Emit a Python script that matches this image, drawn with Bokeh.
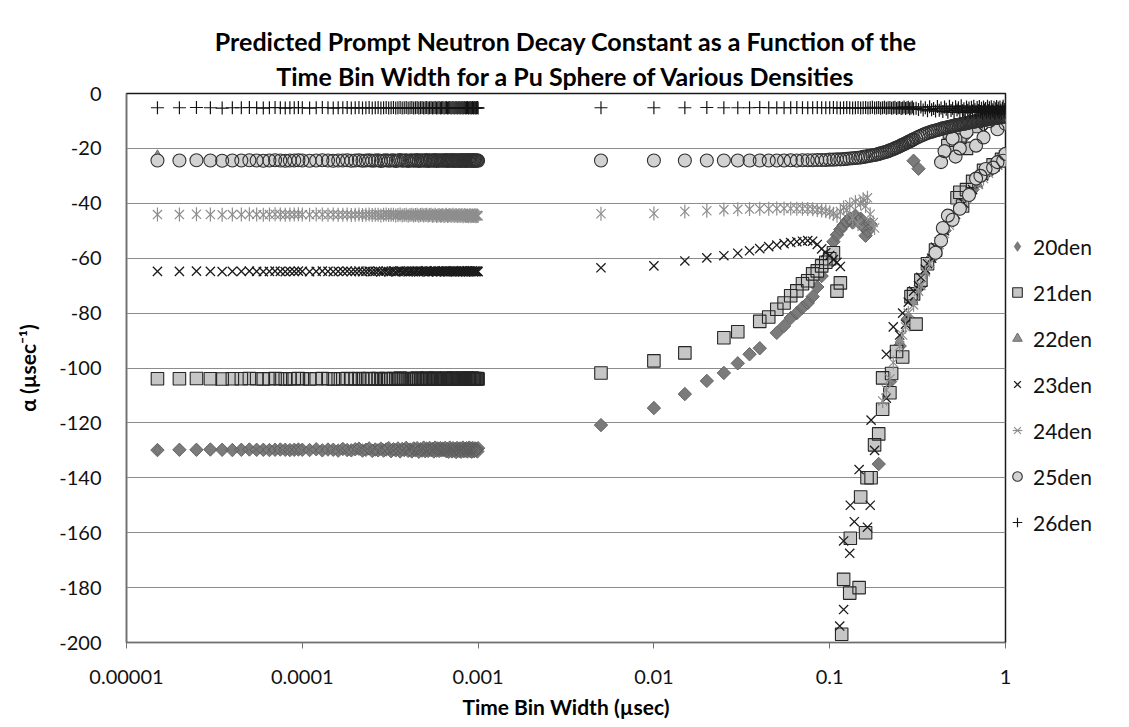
import math
from bokeh.plotting import figure
from bokeh.models import Range1d, FixedTicker, CustomJSTickFormatter, Title, Legend, LegendItem
from bokeh.embed import file_html
from bokeh.resources import INLINE

TITLE_1 = "Predicted Prompt Neutron Decay Constant as a Function of the"
TITLE_2 = "Time Bin Width for a Pu Sphere of Various Densities"
X_LABEL = "Time Bin Width (µsec)"
Y_LABEL = "α (µsec⁻¹)"
SERIES = ["20den", "21den", "22den", "23den", "24den", "25den", "26den"]
X_TICKS = [1e-5, 1e-4, 1e-3, 1e-2, 1e-1, 1.0]
X_TICK_LABELS = ["0.00001", "0.0001", "0.001", "0.01", "0.1", "1"]
Y_TICKS = [-200, -180, -160, -140, -120, -100, -80, -60, -40, -20, 0]

# ---- short time-bin widths (usec), shared by all series ----
LEFT_X = [
    1.5e-5, 2.0e-5, 2.5e-5, 3.0e-5, 3.5e-5, 4.0e-5, 4.5e-5, 5.0e-5, 5.5e-5, 6.0e-5, 6.5e-5, 7.0e-5,
    7.5e-5, 8.0e-5, 8.5e-5, 9.0e-5, 9.5e-5, 1.0e-4, 1.1e-4, 1.2e-4, 1.3e-4, 1.4e-4, 1.5e-4, 1.6e-4,
    1.7e-4, 1.8e-4, 1.9e-4, 2.0e-4, 2.1e-4, 2.2e-4, 2.3e-4, 2.4e-4, 2.5e-4, 2.6e-4, 2.7e-4, 2.8e-4,
    2.9e-4, 3.0e-4, 3.1e-4, 3.2e-4, 3.3e-4, 3.4e-4, 3.5e-4, 3.6e-4, 3.7e-4, 3.8e-4, 3.9e-4, 4.0e-4,
    4.1e-4, 4.2e-4, 4.3e-4, 4.4e-4, 4.5e-4, 4.6e-4, 4.7e-4, 4.8e-4, 4.9e-4, 5.0e-4, 5.1e-4, 5.2e-4,
    5.3e-4, 5.4e-4, 5.5e-4, 5.6e-4, 5.7e-4, 5.8e-4, 5.9e-4, 6.0e-4, 6.1e-4, 6.2e-4, 6.3e-4, 6.4e-4,
    6.5e-4, 6.6e-4, 6.7e-4, 6.8e-4, 6.9e-4, 7.0e-4, 7.1e-4, 7.2e-4, 7.3e-4, 7.4e-4, 7.5e-4, 7.6e-4,
    7.7e-4, 7.8e-4, 7.9e-4, 8.0e-4, 8.1e-4, 8.2e-4, 8.3e-4, 8.4e-4, 8.5e-4, 8.6e-4, 8.7e-4, 8.8e-4,
    8.9e-4, 9.0e-4, 9.1e-4, 9.2e-4, 9.3e-4, 9.4e-4, 9.5e-4, 9.6e-4, 9.7e-4, 9.8e-4, 9.9e-4, 1.0e-3]

D20_LY = [
    -129.9, -129.8, -129.8, -129.7, -129.8, -129.9, -129.8, -129.7, -129.8, -129.8, -129.9, -129.8,
    -129.7, -129.8, -129.9, -129.8, -129.7, -129.8, -129.9, -129.6, -130.0, -129.7, -129.8, -130.1,
    -129.5, -129.9, -130.0, -129.6, -129.4, -130.1, -129.8, -129.3, -130.2, -129.7, -130.0, -129.4,
    -130.1, -129.7, -129.2, -130.3, -129.6, -130.0, -129.3, -130.4, -129.5, -129.9, -129.1, -130.2,
    -129.7, -130.4, -129.3, -130.0, -129.2, -130.5, -129.6, -130.1, -129.0, -130.3, -129.4, -130.2,
    -129.1, -129.9, -129.5, -130.4, -129.0, -130.1, -129.3, -130.2, -129.2, -130.0, -129.4, -129.9,
    -129.1, -130.3, -129.6, -130.5, -129.0, -129.8, -130.4, -129.2, -130.1, -129.5, -130.6, -129.1,
    -129.9, -130.2, -129.3, -130.5, -129.7, -129.0, -130.3, -129.5, -130.1, -129.2, -130.4, -129.6,
    -129.0, -130.2, -129.4, -130.5, -129.1, -129.8, -130.3, -129.3, -130.0, -129.5, -130.4, -129.2]
S21_LY = [
    -103.9, -103.9, -103.8, -103.9, -104.0, -103.9, -103.9, -103.8, -103.9, -104.0, -103.9, -103.8,
    -103.9, -104.0, -103.9, -103.9, -103.8, -103.9, -104.0, -103.9, -103.8, -103.9, -104.0, -103.9,
    -103.9, -103.8, -104.0, -103.9, -103.8, -104.0, -103.9, -103.8, -104.0, -103.9, -103.8, -104.1,
    -103.9, -103.8, -104.0, -103.9, -103.8, -104.1, -103.9, -103.7, -104.0, -103.9, -103.8, -104.1,
    -103.9, -103.8, -104.0, -103.9, -103.7, -104.1, -103.9, -103.8, -104.0, -103.9, -103.7, -104.1,
    -103.9, -103.8, -104.0, -103.9, -103.7, -104.1, -103.9, -103.8, -104.0, -103.9, -103.8, -104.0,
    -103.9, -103.7, -104.1, -103.9, -103.8, -104.0, -103.9, -103.7, -104.1, -103.9, -103.8, -104.0,
    -103.9, -103.8, -104.1, -103.9, -103.7, -104.0, -103.9, -103.8, -104.1, -103.9, -103.7, -104.0,
    -103.9, -103.8, -104.0, -103.9, -103.7, -104.1, -103.9, -103.8, -104.0, -103.9, -103.8, -104.0]
T22_LY = [
    -22.4, -24.1, -24.1, -24.2, -24.1, -24.1, -24.2, -24.1, -24.1, -24.2, -24.1, -24.1,
    -24.2, -24.1, -24.1, -24.2, -24.1, -24.1, -24.2, -24.1, -24.1, -24.2, -24.1, -24.1,
    -24.2, -24.1, -24.1, -24.2, -24.1, -24.1, -24.2, -24.1, -24.1, -24.2, -24.1, -24.1,
    -24.2, -24.1, -24.1, -24.2, -24.1, -24.1, -24.2, -24.1, -24.1, -24.2, -24.1, -24.1,
    -24.2, -24.1, -24.1, -24.2, -24.1, -24.1, -24.2, -24.1, -24.1, -24.2, -24.1, -24.1,
    -24.2, -24.1, -24.1, -24.2, -24.1, -24.1, -24.2, -24.1, -24.1, -24.2, -24.1, -24.1,
    -24.2, -24.1, -24.1, -24.2, -24.1, -24.1, -24.2, -24.1, -24.1, -24.2, -24.1, -24.1,
    -24.2, -24.1, -24.1, -24.2, -24.1, -24.1, -24.2, -24.1, -24.1, -24.2, -24.1, -24.1,
    -24.2, -24.1, -24.1, -24.2, -24.1, -24.1, -24.2, -24.1, -24.1, -24.2, -24.1, -24.1]
X23_LY = [
    -64.8, -64.8, -64.7, -64.8, -64.9, -64.8, -64.8, -64.7, -64.8, -64.9, -64.8, -64.7,
    -64.8, -64.9, -64.8, -64.8, -64.7, -64.8, -64.9, -64.8, -64.7, -64.8, -64.9, -64.8,
    -64.8, -64.7, -64.9, -64.8, -64.7, -64.9, -64.8, -64.7, -64.9, -64.8, -64.7, -65.0,
    -64.8, -64.7, -64.9, -64.8, -64.7, -65.0, -64.8, -64.6, -64.9, -64.8, -64.7, -65.0,
    -64.8, -64.7, -64.9, -64.8, -64.6, -65.0, -64.8, -64.7, -64.9, -64.8, -64.6, -65.0,
    -64.8, -64.7, -64.9, -64.8, -64.6, -65.0, -64.8, -64.7, -64.9, -64.8, -64.7, -64.9,
    -64.8, -64.6, -65.0, -64.8, -64.7, -64.9, -64.8, -64.6, -65.0, -64.8, -64.7, -64.9,
    -64.8, -64.7, -65.0, -64.8, -64.6, -64.9, -64.8, -64.7, -65.0, -64.8, -64.6, -64.9,
    -64.8, -64.7, -64.9, -64.8, -64.6, -65.0, -64.8, -64.7, -64.9, -64.8, -64.7, -64.9]
A24_LY = [
    -44.1, -44.1, -44.0, -44.1, -44.2, -44.1, -44.1, -44.0, -44.1, -44.2, -44.1, -44.0,
    -44.1, -44.2, -44.1, -44.1, -44.0, -44.1, -44.2, -44.1, -44.1, -44.2, -44.1, -44.2,
    -44.2, -44.1, -44.3, -44.2, -44.1, -44.3, -44.2, -44.1, -44.3, -44.2, -44.2, -44.4,
    -44.2, -44.1, -44.3, -44.2, -44.2, -44.4, -44.3, -44.1, -44.4, -44.3, -44.2, -44.5,
    -44.3, -44.2, -44.4, -44.3, -44.2, -44.5, -44.3, -44.2, -44.4, -44.3, -44.2, -44.5,
    -44.3, -44.2, -44.5, -44.4, -44.2, -44.6, -44.4, -44.3, -44.5, -44.4, -44.3, -44.6,
    -44.4, -44.2, -44.6, -44.4, -44.3, -44.5, -44.4, -44.2, -44.6, -44.4, -44.3, -44.6,
    -44.5, -44.3, -44.6, -44.4, -44.3, -44.7, -44.5, -44.3, -44.6, -44.5, -44.4, -44.7,
    -44.5, -44.3, -44.7, -44.5, -44.4, -44.6, -44.5, -44.3, -44.7, -44.5, -44.4, -44.6]
C25_LY = [
    -24.4, -24.4, -24.3, -24.4, -24.5, -24.4, -24.4, -24.3, -24.4, -24.5, -24.4, -24.3,
    -24.4, -24.5, -24.4, -24.4, -24.3, -24.4, -24.5, -24.4, -24.3, -24.4, -24.5, -24.4,
    -24.4, -24.3, -24.5, -24.4, -24.3, -24.5, -24.4, -24.3, -24.5, -24.4, -24.3, -24.6,
    -24.4, -24.3, -24.5, -24.4, -24.3, -24.6, -24.4, -24.2, -24.5, -24.4, -24.3, -24.6,
    -24.4, -24.3, -24.5, -24.4, -24.2, -24.6, -24.4, -24.3, -24.5, -24.4, -24.2, -24.6,
    -24.4, -24.3, -24.5, -24.4, -24.2, -24.6, -24.4, -24.3, -24.5, -24.4, -24.3, -24.5,
    -24.4, -24.2, -24.6, -24.4, -24.3, -24.5, -24.4, -24.2, -24.6, -24.4, -24.3, -24.5,
    -24.4, -24.3, -24.6, -24.4, -24.2, -24.5, -24.4, -24.3, -24.6, -24.4, -24.2, -24.5,
    -24.4, -24.3, -24.5, -24.4, -24.2, -24.6, -24.4, -24.3, -24.5, -24.4, -24.3, -24.5]
P26_LY = [
    -5.2, -5.2, -5.1, -5.2, -5.3, -5.2, -5.2, -5.1, -5.2, -5.3, -5.2, -5.1,
    -5.2, -5.3, -5.2, -5.2, -5.1, -5.2, -5.3, -5.2, -5.1, -5.2, -5.3, -5.2,
    -5.2, -5.1, -5.3, -5.2, -5.1, -5.3, -5.2, -5.1, -5.3, -5.2, -5.1, -5.3,
    -5.2, -5.1, -5.3, -5.2, -5.1, -5.3, -5.2, -5.1, -5.3, -5.2, -5.1, -5.3,
    -5.2, -5.1, -5.3, -5.2, -5.1, -5.3, -5.2, -5.1, -5.3, -5.2, -5.1, -5.3,
    -5.2, -5.1, -5.3, -5.2, -5.1, -5.3, -5.2, -5.1, -5.3, -5.2, -5.1, -5.3,
    -5.2, -5.1, -5.3, -5.2, -5.1, -5.3, -5.2, -5.1, -5.3, -5.2, -5.1, -5.3,
    -5.2, -5.1, -5.3, -5.2, -5.1, -5.3, -5.2, -5.1, -5.3, -5.2, -5.1, -5.3,
    -5.2, -5.1, -5.3, -5.2, -5.1, -5.3, -5.2, -5.1, -5.3, -5.2, -5.1, -5.3]

# ---- long time-bin widths (usec) ----
RIGHT_X = [
    0.005, 0.010, 0.015, 0.020, 0.025, 0.030, 0.035, 0.040, 0.045, 0.050,
    0.055, 0.060, 0.065, 0.070, 0.075, 0.080, 0.085, 0.090, 0.095, 0.100,
    0.105, 0.110, 0.115, 0.120, 0.125, 0.130, 0.135, 0.140, 0.145, 0.150,
    0.155, 0.160, 0.165, 0.170, 0.175, 0.180, 0.185, 0.190, 0.195, 0.200,
    0.205, 0.210, 0.215, 0.220, 0.225, 0.230, 0.235, 0.240, 0.245, 0.250,
    0.255, 0.260, 0.265, 0.270, 0.275, 0.280, 0.285, 0.290, 0.295, 0.300,
    0.31, 0.32, 0.33, 0.34, 0.35, 0.36, 0.37, 0.38, 0.39, 0.40,
    0.41, 0.42, 0.43, 0.44, 0.45, 0.46, 0.47, 0.48, 0.49, 0.50,
    0.51, 0.52, 0.53, 0.54, 0.55, 0.56, 0.57, 0.58, 0.59, 0.60,
    0.61, 0.62, 0.63, 0.64, 0.65, 0.66, 0.67, 0.68, 0.69, 0.70,
    0.71, 0.72, 0.73, 0.74, 0.75, 0.76, 0.77, 0.78, 0.79, 0.80,
    0.81, 0.82, 0.83, 0.84, 0.85, 0.86, 0.87, 0.88, 0.89, 0.90,
    0.91, 0.92, 0.93, 0.94, 0.95, 0.96, 0.97, 0.98, 0.99, 1.00]
P26_RY = [
    -5.2, -5.2, -5.2, -5.1, -5.2, -5.2, -5.2, -5.1, -5.2, -5.2,
    -5.2, -5.2, -5.1, -5.2, -5.2, -5.2, -5.1, -5.2, -5.2, -5.2,
    -5.1, -5.2, -5.3, -5.2, -5.1, -5.2, -5.3, -5.2, -5.1, -5.3,
    -5.2, -5.1, -5.3, -5.2, -5.0, -5.3, -5.2, -5.1, -5.4, -5.2,
    -5.0, -5.4, -5.2, -5.1, -5.4, -5.2, -5.0, -5.5, -5.2, -5.1,
    -5.5, -5.3, -4.9, -5.5, -5.2, -5.0, -5.6, -5.3, -4.9, -5.6,
    -5.4, -5.8, -4.9, -6.0, -5.2, -6.3, -4.8, -5.9, -5.5, -6.4,
    -4.7, -6.1, -5.3, -6.6, -4.9, -5.7, -6.8, -4.6, -6.2, -5.4,
    -6.9, -4.8, -6.0, -5.2, -6.7, -4.5, -6.3, -5.6, -7.0, -4.9,
    -6.1, -5.3, -6.8, -5.0, -6.4, -4.6, -5.9, -6.9, -5.1, -6.2,
    -4.7, -6.6, -5.4, -7.1, -4.9, -6.0, -5.5, -6.8, -4.6, -6.3,
    -5.2, -7.0, -4.8, -5.9, -6.5, -5.0, -7.2, -5.6, -4.7, -6.4,
    -5.3, -6.9, -4.9, -6.1, -7.3, -5.4, -4.6, -6.6, -5.8, -7.0]
C25_RY = [
    -24.4, -24.4, -24.4, -24.4, -24.4, -24.4, -24.4, -24.4, -24.4, -24.4,
    -24.4, -24.3, -24.4, -24.3, -24.3, -24.3, -24.2, -24.2, -24.2, -24.1,
    -24.1, -24.0, -24.0, -23.9, -23.8, -23.7, -23.6, -23.5, -23.4, -23.3,
    -23.1, -23.0, -22.8, -22.7, -22.5, -22.4, -22.2, -22.0, -21.8, -21.6,
    -21.4, -21.2, -21.0, -20.7, -20.5, -20.2, -20.0, -19.7, -19.5, -19.2,
    -18.9, -18.7, -18.4, -18.2, -17.9, -17.7, -17.4, -17.2, -16.9, -16.7,
    -16.2, -15.8, -15.4, -15.0, -14.7, -14.4, -14.1, -13.9, -13.7, -13.5,
    -13.3, -13.1, -12.9, -12.7, -12.6, -12.4, -12.3, -12.1, -12.0, -11.9,
    -11.8, -11.6, -11.5, -11.4, -11.3, -11.2, -11.1, -11.0, -10.9, -10.8,
    -10.7, -10.6, -10.5, -10.4, -10.3, -10.3, -10.2, -10.1, -10.0, -10.0,
    -9.9, -9.8, -9.8, -9.7, -9.6, -9.6, -9.5, -9.4, -9.4, -9.3,
    -9.3, -9.2, -9.1, -9.1, -9.0, -9.0, -8.9, -8.9, -8.8, -8.8,
    -8.7, -8.7, -8.6, -8.6, -8.5, -8.5, -8.4, -8.4, -8.3, -8.3]
C25_EX_X = [0.43, 0.50, 0.55, 0.68, 0.81, 1.00, 0.45, 0.60, 0.52, 0.75, 0.90,
            0.40, 0.43, 0.44, 0.47, 0.50, 0.55, 0.62, 0.68, 0.72, 0.77, 0.85, 0.90, 0.97, 1.00]
C25_EX_Y = [-25.0, -16.4, -20.0, -19.0, -10.0, -11.0, -21.0, -14.0, -23.0, -16.0, -13.0,
            -58.0, -53.6, -49.0, -44.5, -46.0, -42.0, -37.0, -31.0, -30.0, -27.5, -27.0, -25.0, -24.5, -22.0]

T22_RX = [0.005, 0.01, 0.015, 0.02, 0.03, 0.04, 0.05, 0.06, 0.07, 0.08, 0.09, 0.1, 0.12, 0.14, 0.16, 0.18, 0.2,
          0.25, 0.3, 0.35, 0.4, 0.5, 0.6, 0.7, 0.8, 0.9, 1.0]
T22_RY = [-24.2, -24.2, -24.2, -24.2, -24.2, -24.1, -24.1, -24.1, -24.0, -24.0, -24.0, -23.9, -23.7, -23.3, -22.9, -22.2, -21.4,
          -90.0, -76.0, -65.0, -57.0, -46.0, -38.0, -33.0, -29.0, -26.0, -23.0]

D20_RX = [0.005, 0.01, 0.015, 0.02, 0.025, 0.03, 0.035, 0.04, 0.05, 0.055,
          0.06, 0.065, 0.07, 0.075, 0.08, 0.085, 0.09, 0.095, 0.1, 0.105,
          0.11, 0.115, 0.12, 0.125, 0.13, 0.135, 0.14, 0.145, 0.15, 0.155,
          0.16, 0.165, 0.17,
          0.19, 0.30, 0.32, 0.22, 0.25, 0.28, 0.33, 0.38, 0.45, 0.55, 0.65, 0.75, 0.85, 1.0, 0.5, 0.6]
D20_RY = [-120.8, -114.6, -109.5, -104.7, -101.8, -98.3, -95.0, -92.8, -87.2, -84.7,
          -81.8, -80.0, -78.0, -76.3, -74.0, -70.5, -66.5, -62.5, -58.5, -54.0,
          -51.5, -49.5, -48.0, -46.5, -45.5, -47.0, -44.5, -46.5, -45.6, -48.5,
          -51.8, -50.0, -47.5,
          -135.0, -24.5, -27.4, -105.0, -92.0, -82.0, -70.0, -60.0, -50.0, -41.0, -35.0, -30.0, -27.0, -23.0, -18.0, -15.0]

S21_RX = [0.005, 0.01, 0.015, 0.025, 0.03, 0.04, 0.045, 0.05, 0.055, 0.06,
          0.065, 0.07, 0.075, 0.08, 0.085, 0.09, 0.095, 0.1, 0.105, 0.11, 0.115,
          0.117, 0.12, 0.13, 0.147, 0.131, 0.16, 0.15, 0.163, 0.172, 0.18,
          0.19, 0.2, 0.22, 0.225, 0.2, 0.26, 0.24, 0.31, 0.29, 0.3,
          0.33, 0.36, 0.4, 0.53, 0.57, 0.55, 0.6, 0.65, 0.75, 0.85,
          0.95, 1.0, 0.47, 0.6, 0.48, 0.55, 0.7, 0.52]
S21_RY = [-101.8, -97.4, -94.5, -89.0, -86.8, -83.0, -81.4, -78.6, -76.3, -73.7,
          -71.9, -69.3, -68.2, -65.7, -64.6, -62.8, -61.5, -60.2, -58.0, -72.0, -69.0,
          -197.0, -177.0, -182.0, -180.0, -162.0, -160.0, -147.0, -140.0, -140.0, -128.0,
          -124.0, -115.0, -109.0, -102.0, -103.6, -96.0, -94.0, -84.0, -74.0, -73.0,
          -68.0, -62.0, -57.0, -38.0, -41.0, -36.0, -35.0, -32.0, -28.0, -26.0,
          -24.0, -23.0, -19.0, -20.0, -14.0, -16.0, -12.0, -17.0]

X23_RX = [0.005, 0.01, 0.015, 0.02, 0.025, 0.03, 0.035, 0.04, 0.045, 0.05,
          0.055, 0.06, 0.065, 0.07, 0.075, 0.08, 0.085, 0.09, 0.095, 0.1,
          0.105, 0.11, 0.115,
          0.114, 0.12, 0.13, 0.12, 0.138, 0.164, 0.131, 0.17, 0.147, 0.18,
          0.172, 0.21, 0.21, 0.23, 0.26, 0.28, 0.3, 0.33, 0.36, 0.4,
          0.45, 0.5, 0.55, 0.6, 0.65, 0.7, 0.8, 0.9, 1.0, 0.6,
          0.7, 0.8, 0.9, 1.0, 0.75, 0.95,
          0.25, 0.27, 0.32, 0.35, 0.38, 0.42, 0.48, 0.52, 0.58, 0.75, 0.85, 0.95]
X23_RY = [-63.5, -62.8, -61.0, -59.9, -59.1, -58.2, -57.3, -56.5, -55.8, -55.2,
          -54.7, -54.3, -54.0, -53.8, -53.6, -53.8, -55.0, -56.6, -58.0, -59.0,
          -60.5, -61.5, -63.0,
          -194.0, -188.0, -167.5, -163.0, -156.0, -158.0, -150.0, -150.0, -137.0, -130.0,
          -119.0, -111.0, -95.0, -85.0, -80.0, -76.0, -72.0, -67.0, -62.0, -56.0,
          -50.0, -46.0, -42.0, -38.0, -35.0, -33.0, -28.0, -26.0, -23.0, -9.0,
          -11.0, -8.0, -12.0, -9.0, -14.0, -10.0,
          -88.0, -84.0, -70.0, -64.0, -60.0, -54.0, -47.0, -44.0, -40.0, -30.0, -27.0, -24.0]

A24_RX = [0.005, 0.01, 0.015, 0.02, 0.025, 0.03, 0.035, 0.04, 0.045, 0.05,
          0.055, 0.06, 0.065, 0.07, 0.075, 0.08, 0.085, 0.09, 0.095, 0.1,
          0.105, 0.11, 0.115, 0.12, 0.125, 0.13, 0.14, 0.15, 0.155, 0.16,
          0.164, 0.17, 0.177, 0.18, 0.135, 0.145,
          0.2, 0.22, 0.25, 0.27, 0.3, 0.33, 0.37, 0.42, 0.48, 0.55,
          0.62, 0.7, 0.8, 0.9, 1.0,
          0.21, 0.23, 0.26, 0.28, 0.32, 0.35, 0.4, 0.45, 0.5, 0.6, 0.75, 0.85, 0.95]
A24_RY = [-43.8, -43.7, -43.0, -42.7, -42.3, -42.2, -42.1, -42.0, -42.0, -41.9,
          -41.9, -41.9, -42.0, -42.0, -42.1, -42.2, -42.4, -42.6, -42.9, -43.3,
          -43.8, -44.5, -43.0, -41.5, -42.5, -40.5, -39.5, -40.0, -38.5, -41.0,
          -38.0, -44.0, -47.0, -49.0, -45.5, -47.5,
          -112.0, -104.0, -92.0, -85.0, -77.0, -70.0, -62.0, -55.0, -48.0, -42.0,
          -37.0, -33.0, -29.0, -26.0, -23.0,
          -108.0, -98.0, -88.0, -80.0, -72.0, -65.0, -58.0, -51.0, -46.0, -38.0, -31.0, -27.0, -24.0]

p = figure(frame_width=879, frame_height=549, x_axis_type="log",
           x_range=Range1d(X_TICKS[0], X_TICKS[-1]),
           y_range=Range1d(Y_TICKS[0], Y_TICKS[-1]),
           output_backend="svg", toolbar_location=None,
           min_border_left=126, min_border_right=124,
           min_border_top=93, min_border_bottom=85,
           title=TITLE_1)
p.background_fill_color = "white"
p.border_fill_color = "white"
p.outline_line_color = "#1a1a1a"
p.outline_line_width = 1.5

p.title.text_font = "Lato"
p.title.text_font_size = "25px"
p.title.text_font_style = "bold"
p.title.text_color = "#000000"
p.title.align = "center"
p.title.standoff = 0
p.add_layout(Title(text=TITLE_2, align="center", text_font="Lato", text_font_size="25px",
                   text_font_style="bold", text_color="#000000", standoff=6), "above")

# axes
p.xaxis.ticker = FixedTicker(ticks=X_TICKS)
p.xaxis.formatter = CustomJSTickFormatter(args=dict(tvals=X_TICKS, tlabels=X_TICK_LABELS), code="""
    for (let i = 0; i < tvals.length; i++) {
        if (Math.abs(Math.log10(tvals[i]) - Math.log10(tick)) < 1e-6) { return tlabels[i]; }
    }
    return "";
""")
p.yaxis.ticker = FixedTicker(ticks=Y_TICKS)
p.yaxis.formatter = CustomJSTickFormatter(code="return tick.toFixed(0);")
p.xaxis.axis_label = X_LABEL
p.yaxis.axis_label = Y_LABEL
for ax in (p.xaxis, p.yaxis):
    ax.axis_line_color = "#707070"
    ax.axis_line_width = 1.2
    ax.minor_tick_line_color = None
    ax.major_label_text_font = "Lato"
    ax.major_label_text_font_size = "20px"
    ax.major_label_text_color = "#111111"
    ax.axis_label_text_font = "Lato"
    ax.axis_label_text_font_size = "21px"
    ax.axis_label_text_font_style = "bold"
    ax.axis_label_text_color = "#000000"
p.xaxis.major_tick_line_color = "#707070"
p.xaxis.major_tick_out = 6
p.xaxis.major_tick_in = 0
p.xaxis.major_label_standoff = 21
p.xaxis.axis_label_standoff = 7
p.yaxis.major_tick_line_color = None
p.yaxis.major_tick_out = 0
p.yaxis.major_tick_in = 0
p.yaxis.major_label_standoff = 25
p.yaxis.axis_label_standoff = 16

p.xgrid.visible = False
p.ygrid.ticker = FixedTicker(ticks=Y_TICKS)
p.ygrid.grid_line_color = "#8c8c8c"
p.ygrid.grid_line_width = 1.1

# series (filled markers: fills first, then outlines on top, as in the original chart)
d20x, d20y = LEFT_X + D20_RX, D20_LY + D20_RY
r20f = p.scatter(d20x, d20y, marker="square", size=9.5, angle=math.pi / 4,
                 fill_color="#7b7b7b", line_color=None)
r20o = p.scatter(d20x, d20y, marker="square", size=9.5, angle=math.pi / 4,
                 fill_color=None, line_color="#5e5e5e", line_width=0.9)
s21x, s21y = LEFT_X + S21_RX, S21_LY + S21_RY
r21f = p.scatter(s21x, s21y, marker="square", size=12.5, fill_color="#c6c6c6", line_color=None)
r21o = p.scatter(s21x, s21y, marker="square", size=12.5, fill_color=None,
                 line_color="#262626", line_width=1.1)
t22x, t22y = LEFT_X + T22_RX, T22_LY + T22_RY
r22f = p.scatter(t22x, t22y, marker="triangle", size=9, fill_color="#909090", line_color=None)
r22o = p.scatter(t22x, t22y, marker="triangle", size=9, fill_color=None,
                 line_color="#6e6e6e", line_width=1.0)
r23 = p.scatter(LEFT_X + X23_RX, X23_LY + X23_RY, marker="x", size=13,
                line_color="#1c1c1c", line_width=1.3)
r24a = p.scatter(LEFT_X + A24_RX, A24_LY + A24_RY, marker="x", size=13,
                 line_color="#8e8e8e", line_width=1.2)
r24b = p.scatter(LEFT_X + A24_RX, A24_LY + A24_RY, marker="dash", size=14, angle=math.pi / 2,
                 line_color="#8e8e8e", line_width=1.2)
c25x, c25y = LEFT_X + RIGHT_X + C25_EX_X, C25_LY + C25_RY + C25_EX_Y
r25f = p.scatter(c25x, c25y, marker="circle", size=13, fill_color="#d2d2d2", line_color=None)
r25o = p.scatter(c25x, c25y, marker="circle", size=13, fill_color=None,
                 line_color="#303030", line_width=1.1)
r26 = p.scatter(LEFT_X + RIGHT_X, P26_LY + P26_RY, marker="cross", size=13,
                line_color="#141414", line_width=1.2)

# legend glyph for the diamond marker: drawn inside the first 20den marker, so it stays hidden in the plot
leg20 = p.scatter(LEFT_X[:1], D20_LY[:1], marker="diamond", size=10,
                  fill_color="#7b7b7b", line_color="#6b6b6b", line_width=0.8)

legend = Legend(items=[
    LegendItem(label=SERIES[0], renderers=[leg20]),
    LegendItem(label=SERIES[1], renderers=[r21f, r21o]),
    LegendItem(label=SERIES[2], renderers=[r22f, r22o]),
    LegendItem(label=SERIES[3], renderers=[r23]),
    LegendItem(label=SERIES[4], renderers=[r24a, r24b]),
    LegendItem(label=SERIES[5], renderers=[r25f, r25o]),
    LegendItem(label=SERIES[6], renderers=[r26]),
], location="center_left")
legend.title = " "
legend.title_text_font_size = "22px"
legend.title_standoff = 7
legend.border_line_color = None
legend.background_fill_alpha = 0
legend.padding = 0
legend.margin = 0
legend.spacing = 21
legend.glyph_width = 24
legend.glyph_height = 24
legend.label_standoff = 4
legend.label_height = 24
legend.label_text_font = "Lato"
legend.label_text_font_size = "21px"
legend.label_text_color = "#111111"
legend.label_text_baseline = "middle"
p.add_layout(legend, "right")

open("out.html", "w").write(file_html(p, INLINE))
